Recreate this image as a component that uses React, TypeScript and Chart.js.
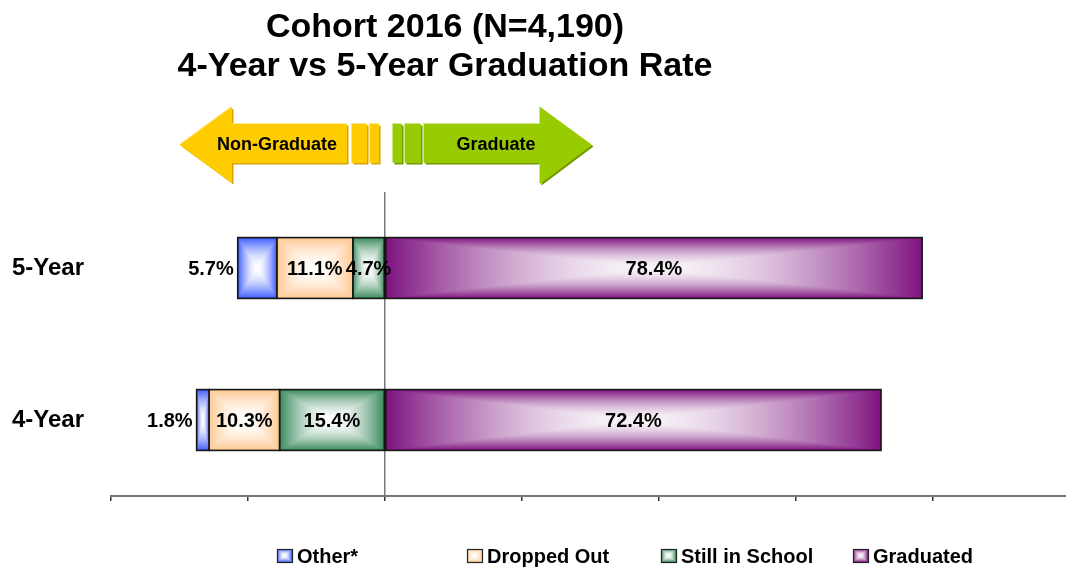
import React, { useEffect, useRef } from 'react';
import { Chart, registerables } from 'chart.js';

Chart.register(...registerables);

// ---- data ----
const categories = ['5-Year', '4-Year'];
const otherPct = [5.7, 1.8];
const droppedPct = [11.1, 10.3];
const stillPct = [4.7, 15.4];
const graduatedPct = [78.4, 72.4];
const seriesNames = ['Other*', 'Dropped Out', 'Still in School', 'Graduated'];
const titleLines = ['Cohort 2016 (N=4,190)', '4-Year vs 5-Year Graduation Rate'];
const axisTicks = [-40, -20, 0, 20, 40, 60, 80];
const arrowLabels = ['Non-Graduate', 'Graduate'];

const FONT = 'Arial, "Liberation Sans", Helvetica, sans-serif';

const edgeColors: Record<string, string> = {
  other: '#3D5CFF',
  dropped: '#FFC890',
  still: '#3A8A5C',
  graduated: '#7E1380',
};
const centerColors: Record<string, string> = {
  other: '#FFFFFF',
  dropped: '#FFFFFF',
  still: '#FFFFFF',
  graduated: '#F8F4F8',
};

function hexToRgb(h: string) {
  const v = parseInt(h.slice(1), 16);
  return [(v >> 16) & 255, (v >> 8) & 255, v & 255];
}

const gradCache: Record<string, HTMLCanvasElement> = {};
function gradientCanvas(w: number, h: number, key: string) {
  const W = Math.max(1, Math.round(w));
  const H = Math.max(1, Math.round(h));
  const ck = key + '_' + W + '_' + H;
  if (gradCache[ck]) return gradCache[ck];
  const c = document.createElement('canvas');
  c.width = W;
  c.height = H;
  const g = c.getContext('2d')!;
  const img = g.createImageData(W, H);
  const e = hexToRgb(edgeColors[key]);
  const m = hexToRgb(centerColors[key]);
  const hw = W / 2;
  const hh = H / 2;
  for (let y = 0; y < H; y++) {
    for (let x = 0; x < W; x++) {
      const dx = Math.abs(x + 0.5 - hw) / hw;
      const dy = Math.abs(y + 0.5 - hh) / hh;
      const t = Math.min(1, Math.max(dx, dy));
      const f = Math.pow(t, 1.7);
      const i = (y * W + x) * 4;
      img.data[i] = m[0] + (e[0] - m[0]) * f;
      img.data[i + 1] = m[1] + (e[1] - m[1]) * f;
      img.data[i + 2] = m[2] + (e[2] - m[2]) * f;
      img.data[i + 3] = 255;
    }
  }
  g.putImageData(img, 0, 0);
  gradCache[ck] = c;
  return c;
}

const legendKeys = ['other', 'dropped', 'still', 'graduated'];
const legendBoxX = [277, 467, 661, 853];

const decorPlugin = {
  id: 'decor',
  afterDraw(chart: any) {
    const ctx = chart.ctx as CanvasRenderingContext2D;
    ctx.save();
    // Title
    ctx.fillStyle = '#000';
    ctx.font = `bold 34px ${FONT}`;
    ctx.textAlign = 'center';
    ctx.textBaseline = 'alphabetic';
    ctx.fillText(titleLines[0], 445, 37);
    ctx.fillText(titleLines[1], 445, 76);

    // Arrow graphic
    const poly = (pts: number[][], fill: string, dx = 0, dy = 0) => {
      ctx.beginPath();
      pts.forEach((p, i) => (i ? ctx.lineTo(p[0] + dx, p[1] + dy) : ctx.moveTo(p[0] + dx, p[1] + dy)));
      ctx.closePath();
      ctx.fillStyle = fill;
      ctx.fill();
    };
    const yArrow = [[180, 145], [232, 107], [232, 124], [347, 124], [347, 163], [232, 163], [232, 183]];
    const gArrow = [[424, 124], [540, 124], [540, 107], [592, 145], [540, 184], [540, 163], [424, 163]];
    const rect = (x0: number, y0: number, x1: number, y1: number) => [[x0, y0], [x1, y0], [x1, y1], [x0, y1]];
    const yBars = [rect(352, 124, 367, 163), rect(370, 124, 379, 163)];
    const gBars = [rect(393, 124, 402, 163), rect(405, 124, 421, 163)];
    [yArrow, ...yBars].forEach((p) => poly(p, '#D9A300', 1.5, 1.5));
    [yArrow, ...yBars].forEach((p) => poly(p, '#FFE066', -0.8, -0.8));
    [yArrow, ...yBars].forEach((p) => poly(p, '#FFCC00'));
    [gArrow, ...gBars].forEach((p) => poly(p, '#739900', 1.5, 1.5));
    [gArrow, ...gBars].forEach((p) => poly(p, '#C2E066', -0.8, -0.8));
    [gArrow, ...gBars].forEach((p) => poly(p, '#99CC00'));
    ctx.fillStyle = '#000';
    ctx.font = `bold 18px ${FONT}`;
    ctx.textBaseline = 'middle';
    ctx.textAlign = 'center';
    ctx.fillText(arrowLabels[0], 277, 145);
    ctx.fillText(arrowLabels[1], 496, 145);

    // Legend
    ctx.font = `bold 20px ${FONT}`;
    ctx.textAlign = 'left';
    ctx.textBaseline = 'alphabetic';
    legendKeys.forEach((k, i) => {
      const bx = legendBoxX[i];
      const by = 549;
      ctx.drawImage(gradientCanvas(15, 13, k), bx, by, 15, 13);
      ctx.strokeStyle = '#222';
      ctx.lineWidth = 1.2;
      ctx.strokeRect(bx + 0.5, by + 0.5, 15, 13);
      ctx.fillStyle = '#000';
      ctx.fillText(seriesNames[i], bx + 20, 563);
    });
    ctx.restore();
  },
  afterDatasetsDraw(chart: any) {
    const ctx = chart.ctx as CanvasRenderingContext2D;
    ctx.save();
    const metas = chart.getSortedVisibleDatasetMetas();
    const labels: any[] = [];
    metas.forEach((meta: any) => {
      const ds = chart.data.datasets[meta.index];
      const key = ds.key;
      meta.data.forEach((el: any, i: number) => {
        const p = el.getProps(['x', 'base', 'y', 'height'], true);
        const left = Math.min(p.x, p.base);
        const w = Math.abs(p.x - p.base);
        const top = p.y - p.height / 2;
        const h = p.height;
        ctx.drawImage(gradientCanvas(w, h, key), left, top, w, h);
        ctx.strokeStyle = '#151515';
        ctx.lineWidth = 1.6;
        ctx.strokeRect(left, top, w, h);
        const v = Math.abs(ds.data[i]);
        labels.push({ key, v, left, cx: left + w / 2, cy: p.y });
      });
    });
    ctx.fillStyle = '#000';
    ctx.font = `bold 20px ${FONT}`;
    ctx.textBaseline = 'middle';
    labels.forEach((l) => {
      const txt = l.v.toFixed(1) + '%';
      if (l.key === 'other') {
        ctx.textAlign = 'right';
        ctx.fillText(txt, l.left - 4, l.cy + 1);
      } else {
        ctx.textAlign = 'center';
        ctx.fillText(txt, l.cx, l.cy + 1);
      }
    });
    ctx.restore();
  },
};

export default function App() {
  const ref = useRef<HTMLCanvasElement | null>(null);
  useEffect(() => {
    if (!ref.current) return;
    const mk = (label: string, key: string, data: number[]) => ({
      label,
      key,
      data,
      backgroundColor: 'rgba(0,0,0,0)',
      borderWidth: 0,
      barPercentage: 0.4,
      categoryPercentage: 1,
    });
    const chart = new Chart(ref.current, {
      type: 'bar',
      data: {
        labels: categories,
        datasets: [
          mk(seriesNames[2], 'still', stillPct.map((v) => -v)),
          mk(seriesNames[1], 'dropped', droppedPct.map((v) => -v)),
          mk(seriesNames[0], 'other', otherPct.map((v) => -v)),
          mk(seriesNames[3], 'graduated', graduatedPct),
        ] as any,
      },
      options: {
        indexAxis: 'y',
        responsive: false,
        animation: false,
        layout: { padding: { left: 12, top: 192, right: 0, bottom: 0 } },
        plugins: {
          legend: { display: false },
          title: { display: false },
          tooltip: { enabled: false },
        },
        scales: {
          x: {
            stacked: true,
            min: -40,
            max: 99.4,
            afterBuildTicks: (scale: any) => {
              scale.ticks = axisTicks.map((v) => ({ value: v }));
            },
            afterFit: (scale: any) => {
              scale.height = 73;
            },
            ticks: { display: false },
            grid: {
              display: true,
              drawOnChartArea: true,
              drawTicks: true,
              tickLength: 5,
              tickColor: '#333',
              tickWidth: 1.5,
              color: (c: any) => (c.tick && c.tick.value === 0 ? '#7a7a7a' : 'rgba(0,0,0,0)'),
              lineWidth: 1.5,
            },
            border: { display: true, color: '#777', width: 2 },
          },
          y: {
            stacked: true,
            afterFit: (scale: any) => {
              scale.width = 99;
            },
            grid: { display: false },
            border: { display: false },
            ticks: {
              crossAlign: 'far',
              padding: 0,
              color: '#000',
              font: { family: FONT, size: 24, weight: 'bold' },
            },
          },
        },
      } as any,
      plugins: [decorPlugin],
    });
    return () => chart.destroy();
  }, []);
  return (
    <div style={{ position: 'fixed', left: 0, top: 0, width: 1066, height: 569, background: '#fff' }}>
      <canvas ref={ref} width={1066} height={569} />
    </div>
  );
}
